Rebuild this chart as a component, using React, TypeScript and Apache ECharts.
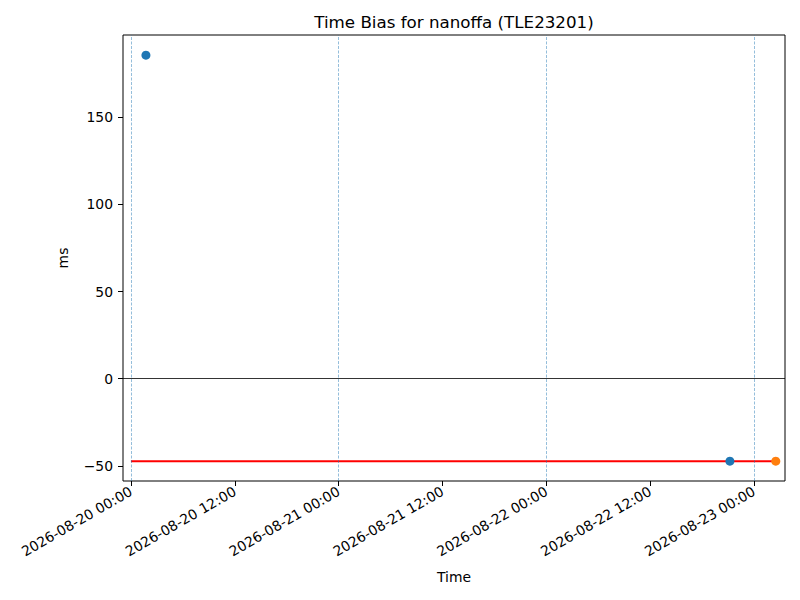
import React, { useEffect, useRef } from 'react';
import * as echarts from 'echarts';

const utc = (d: number, h: number, m: number) => Date.UTC(2026, 7, d, h, m);

// 数据
const blueTimes = [utc(20, 1, 44), utc(22, 21, 13)];
const blueValues = [185.6, -47.3];
const orangeTimes = [utc(23, 2, 31)];
const orangeValues = [-47.3];
const refLineTimes = [utc(20, 0, 0), utc(23, 2, 31)];
const refLineValues = [-47.3, -47.3];
const dayLines = [utc(20, 0, 0), utc(21, 0, 0), utc(22, 0, 0), utc(23, 0, 0)];
const xTicks = [
  utc(20, 0, 0), utc(20, 12, 0), utc(21, 0, 0), utc(21, 12, 0),
  utc(22, 0, 0), utc(22, 12, 0), utc(23, 0, 0),
];
const yTicks = [-50, 0, 50, 100, 150];

const pad = (n: number) => String(n).padStart(2, '0');
const fmtTime = (v: number) => {
  const d = new Date(v);
  return `${d.getUTCFullYear()}-${pad(d.getUTCMonth() + 1)}-${pad(d.getUTCDate())} ${pad(d.getUTCHours())}:${pad(d.getUTCMinutes())}`;
};

const FONT = 'DejaVu Sans';

const App: React.FC = () => {
  const chartRef = useRef<HTMLDivElement | null>(null);

  useEffect(() => {
    if (!chartRef.current) return;
    const myChart = echarts.init(chartRef.current, undefined, { renderer: 'svg' });

    const option: echarts.EChartsOption = {
      animation: false,
      backgroundColor: '#fff',
      textStyle: { fontFamily: FONT },
      grid: {
        left: 123,
        right: 15,
        top: 35,
        bottom: 119,
        show: true,
        borderColor: '#000',
        borderWidth: 1,
        backgroundColor: 'transparent',
      },
      graphic: [
        {
          type: 'text',
          x: 454,
          y: 22,
          style: {
            text: 'Time Bias for nanoffa (TLE23201)',
            fontSize: 16.7,
            fontFamily: FONT,
            fill: '#000',
            textAlign: 'center',
            textVerticalAlign: 'middle',
          },
        },
      ],
      xAxis: {
        type: 'value',
        min: utc(19, 23, 5),
        max: utc(23, 3, 35),
        name: 'Time',
        nameLocation: 'middle',
        nameGap: 89,
        nameTextStyle: { fontSize: 13.9, color: '#000', fontFamily: FONT },
        splitLine: { show: false },
        axisLine: { show: false, onZero: false },
        axisTick: { show: true, length: 5, customValues: xTicks, lineStyle: { color: '#000' } },
        axisLabel: {
          customValues: xTicks,
          rotate: 30,
          margin: 9,
          fontSize: 13.9,
          color: '#000',
          fontFamily: FONT,
          formatter: (v: number) => fmtTime(v),
        },
      },
      yAxis: {
        type: 'value',
        min: -58.7,
        max: 197.2,
        name: 'ms',
        nameLocation: 'middle',
        nameGap: 53,
        nameRotate: 90,
        nameTextStyle: { fontSize: 13.9, color: '#000', fontFamily: FONT },
        splitLine: { show: false },
        axisLine: { show: false, onZero: false },
        axisTick: { show: true, length: 5, customValues: yTicks, lineStyle: { color: '#000' } },
        axisLabel: {
          customValues: yTicks,
          margin: 10,
          fontSize: 13.9,
          color: '#000',
          fontFamily: FONT,
          formatter: (v: number) => (v < 0 ? '\u2212' + Math.abs(v) : String(v)),
        },
      },
      series: [
        {
          type: 'line',
          data: refLineTimes.map((t, i) => [t, refLineValues[i]]),
          showSymbol: false,
          symbol: 'none',
          lineStyle: { color: '#ff0000', width: 2 },
          z: 3,
          markLine: {
            silent: true,
            symbol: 'none',
            label: { show: false },
            data: [
              { yAxis: 0, lineStyle: { color: '#000', width: 0.8, type: 'solid' } },
              ...dayLines.map((t) => ({
                xAxis: t,
                lineStyle: { color: '#1f77b4', width: 0.6, type: [3, 1.5] as any, opacity: 0.8 },
              })),
            ],
          },
        },
        {
          type: 'scatter',
          data: blueTimes.map((t, i) => [t, blueValues[i]]),
          symbolSize: 9,
          itemStyle: { color: '#1f77b4', opacity: 1 },
          z: 4,
        },
        {
          type: 'scatter',
          data: orangeTimes.map((t, i) => [t, orangeValues[i]]),
          symbolSize: 9,
          itemStyle: { color: '#ff7f0e', opacity: 1 },
          z: 4,
        },
      ],
    };

    myChart.setOption(option);

    return () => {
      myChart.dispose();
    };
  }, []);

  return (
    <div
      ref={chartRef}
      style={{ position: 'fixed', left: 0, top: 0, width: 800, height: 600 }}
    ></div>
  );
};

export default App;
